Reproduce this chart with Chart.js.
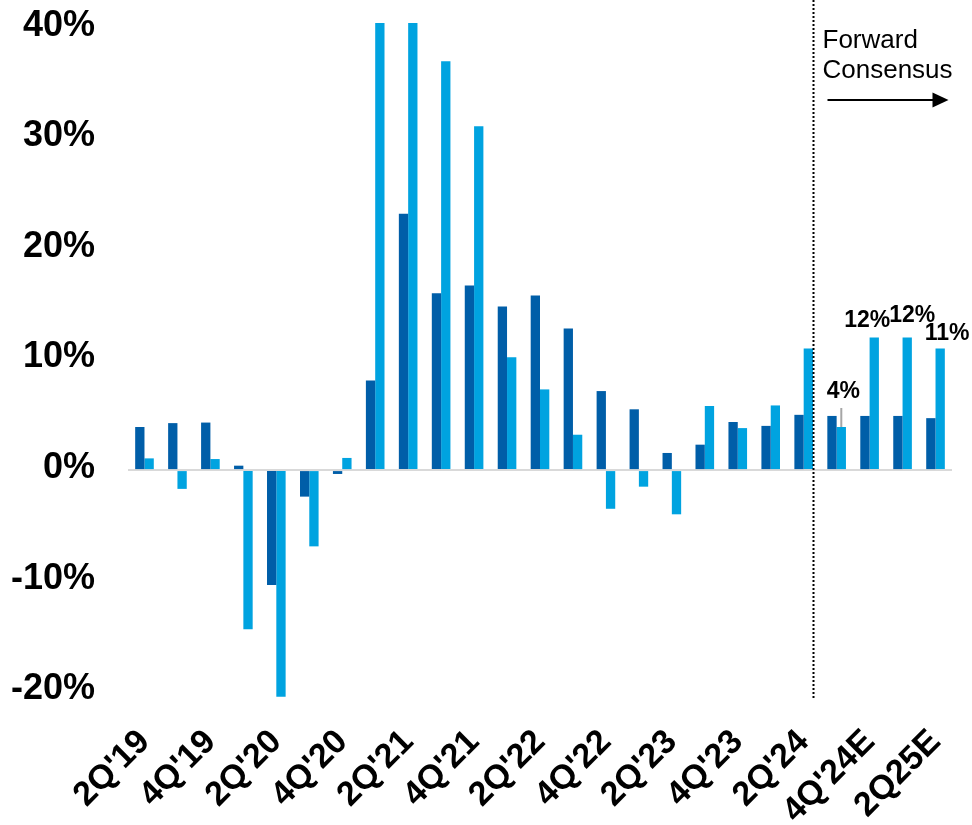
<!DOCTYPE html>
<html>
<head>
<meta charset="utf-8">
<script src="https://cdn.jsdelivr.net/npm/chart.js@4.4.1/dist/chart.umd.min.js"></script>
<style>
  html, body { margin: 0; padding: 0; background: #fff; }
  #wrap { width: 972px; height: 825px; position: relative; }
</style>
</head>
<body>
<div id="wrap"><canvas id="chart"></canvas></div>
<script>
// Quarterly growth, y/y % (last four quarters are consensus estimates)
const quarters = ["2Q'19", "3Q'19", "4Q'19", "1Q'20", "2Q'20", "3Q'20", "4Q'20", "1Q'21", "2Q'21",
  "3Q'21", "4Q'21", "1Q'22", "2Q'22", "3Q'22", "4Q'22", "1Q'23", "2Q'23", "3Q'23", "4Q'23",
  "1Q'24", "2Q'24", "3Q'24E", "4Q'24E", "1Q25E", "2Q25E"];

const revenueGrowth = [3.9, 4.25, 4.3, 0.4, -10.4, -2.4, -0.35, 8.1, 23.2, 16.0, 16.7, 14.8, 15.8,
  12.8, 7.15, 5.5, 1.55, 2.3, 4.35, 4.0, 5.0, 4.9, 4.9, 4.9, 4.7];

const earningsGrowth = [1.06, -1.7, 1.0, -14.4, -20.5, -6.9, 1.1, 52, 90, 37.0, 31.1, 10.2, 7.3,
  3.2, -3.5, -1.5, -4.0, 5.8, 3.8, 5.85, 11.0, 3.9, 12.0, 12.0, 11.0];

const yTicks = [-20, -10, 0, 10, 20, 30, 40];

// first forecast quarter
const forecastFrom = 21;

// placement of the value labels on the forecast bars (px offsets)
const labelNudge = [
  { dx: 2, dy: -29, leader: true },
  { dx: -7, dy: -10 },
  { dx: 5, dy: -15 },
  { dx: 7, dy: -9 }
];

const DARK = '#005EA8';
const LIGHT = '#00A3E0';
const FONT = '"Liberation Sans", Arial, sans-serif';

const overlay = {
  id: 'overlay',
  afterDatasetsDraw(chart) {
    const ctx = chart.ctx;
    const area = chart.chartArea;
    const meta = chart.getDatasetMeta(1);
    const lastActual = meta.data[forecastFrom - 1];
    const lineX = Math.round(lastActual.x + lastActual.width / 2) + 0.5;

    ctx.save();
    // dotted separator
    ctx.strokeStyle = '#000';
    ctx.lineWidth = 2;
    ctx.setLineDash([2, 2]);
    ctx.beginPath();
    ctx.moveTo(lineX, 0);
    ctx.lineTo(lineX, area.bottom);
    ctx.stroke();
    ctx.setLineDash([]);

    // caption + arrow
    ctx.fillStyle = '#000';
    ctx.font = '26px ' + FONT;
    ctx.textAlign = 'left';
    ctx.textBaseline = 'alphabetic';
    ctx.fillText('Forward', lineX + 9, 48);
    ctx.fillText('Consensus', lineX + 9, 78);

    const ay = 100;
    const ax0 = lineX + 14;
    const ax1 = lineX + 135;
    ctx.lineWidth = 2;
    ctx.beginPath();
    ctx.moveTo(ax0, ay);
    ctx.lineTo(ax1 - 14, ay);
    ctx.stroke();
    ctx.beginPath();
    ctx.moveTo(ax1, ay);
    ctx.lineTo(ax1 - 16, ay - 7.5);
    ctx.lineTo(ax1 - 16, ay + 7.5);
    ctx.closePath();
    ctx.fill();

    // value labels on forecast bars
    ctx.font = 'bold 23px ' + FONT;
    ctx.textAlign = 'center';
    labelNudge.forEach((n, k) => {
      const i = forecastFrom + k;
      const bar = meta.data[i];
      const tx = bar.x + n.dx;
      const ty = bar.y + n.dy;
      if (n.leader) {
        ctx.strokeStyle = '#A6A6A6';
        ctx.lineWidth = 2;
        ctx.beginPath();
        ctx.moveTo(bar.x, bar.y);
        ctx.lineTo(bar.x, ty + 10);
        ctx.stroke();
      }
      ctx.fillStyle = '#000';
      ctx.fillText(Math.round(earningsGrowth[i]) + '%', tx, ty);
    });
    ctx.restore();
  }
};

new Chart(document.getElementById('chart'), {
  type: 'bar',
  data: {
    labels: quarters,
    datasets: [
      { label: 'Revenue growth', data: revenueGrowth, backgroundColor: DARK },
      { label: 'Earnings growth', data: earningsGrowth, backgroundColor: LIGHT }
    ]
  },
  options: {
    responsive: true,
    maintainAspectRatio: false,
    animation: false,
    categoryPercentage: 0.565,
    barPercentage: 1.0,
    layout: { padding: { top: 23, right: 20, left: 0, bottom: 0 } },
    plugins: {
      legend: { display: false },
      tooltip: { enabled: false }
    },
    scales: {
      x: {
        grid: { display: false },
        border: { display: false },
        ticks: {
          autoSkip: false,
          maxRotation: 45,
          minRotation: 45,
          padding: 14,
          color: '#000',
          font: { family: FONT, size: 34, weight: 'bold' },
          callback: (v, i) => (i % 2 === 0 ? quarters[i] : null)
        },
        afterFit: s => {
          s.height = 125;
          s.paddingLeft = 0;
          s.paddingRight = 0;
        }
      },
      y: {
        min: -20.8,
        max: 40.45,
        afterBuildTicks: s => { s.ticks = yTicks.map(v => ({ value: v })); },
        grid: {
          drawTicks: false,
          lineWidth: 2,
          color: c => (c.tick && c.tick.value === 0 ? '#D9D9D9' : 'rgba(0,0,0,0)')
        },
        border: { display: false },
        ticks: {
          padding: 33,
          labelOffset: -2,
          color: '#000',
          font: { family: FONT, size: 36, weight: 'bold' },
          callback: v => v + '%'
        },
        afterFit: s => {
          s.width = 128;
          s.paddingTop = 0;
          s.paddingBottom = 0;
        }
      }
    }
  },
  plugins: [overlay]
});
</script>
</body>
</html>
